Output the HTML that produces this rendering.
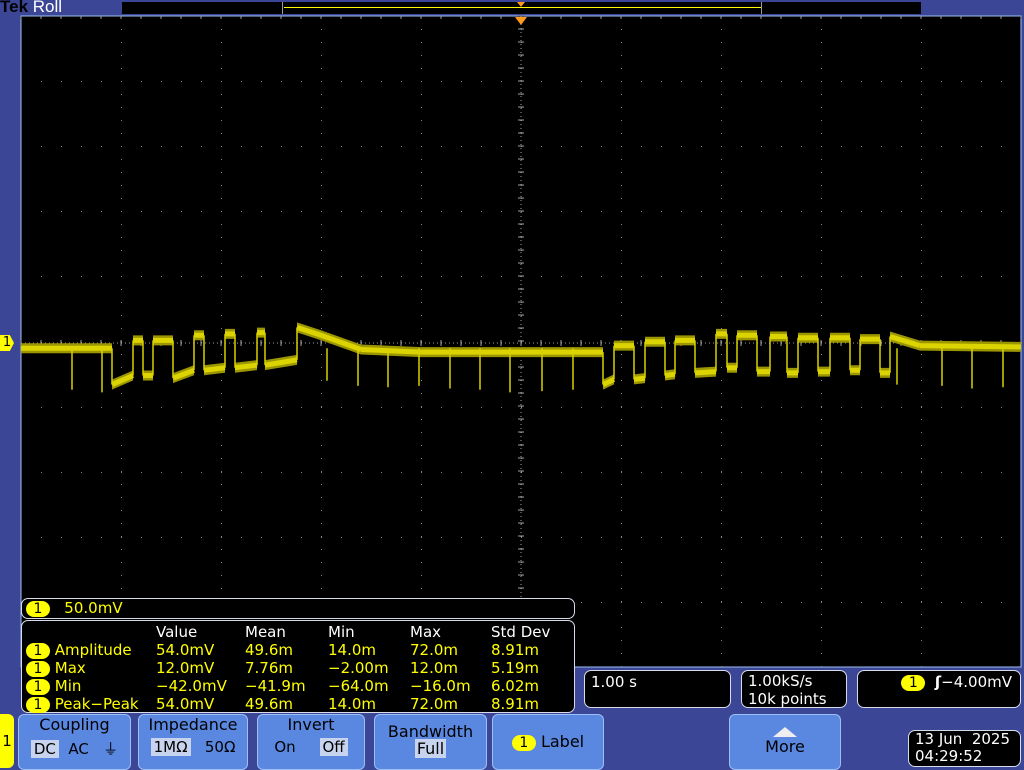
<!DOCTYPE html>
<html><head><meta charset="utf-8"><style>
body{margin:0;width:1024px;height:768px;background:#3b4796;overflow:hidden;position:relative;font-family:"DejaVu Sans","Liberation Sans",sans-serif;}
.abs{position:absolute}
.box{position:absolute;background:#000;border:1px solid #d8dce8;border-radius:7px;box-sizing:border-box;color:#fff;font-size:15px}
.btn{position:absolute;top:714px;height:56px;background:#5a88e0;border:1px solid #9cc0f5;border-radius:6px;box-sizing:border-box;color:#000;font-size:16px;text-align:center}
.c1{display:inline-block;background:#ffff00;color:#000;border-radius:9px;width:24px;height:16px;line-height:16px;text-align:center;font-size:14px}
table{border-collapse:collapse}
td{padding:0;color:#ffff00;font-size:15px;height:18px;line-height:18px}
</style></head><body>
<div class="abs" style="left:0;top:-3px;font-size:17px;font-family:'Liberation Sans',sans-serif;"><span style="color:#000;font-weight:bold">Tek</span> <span style="color:#fff">Roll</span></div>
<div class="abs" style="left:122px;top:2px;width:799px;height:12px;background:#000"></div>
<div class="abs" style="left:282px;top:2px;width:480px;height:12px;border-left:1px solid #999;border-right:1px solid #999;box-sizing:border-box"></div>
<div class="abs" style="left:284px;top:7px;width:477px;height:1px;background:#ffff00"></div>
<div class="abs" style="left:517px;top:2px;width:0;height:0;border-left:4px solid transparent;border-right:4px solid transparent;border-top:5px solid #ff9a1f"></div>
<svg class="abs" style="left:0;top:0" width="1024" height="768" id="plot"></svg>
<div class="abs" style="left:0;top:335px;width:14px;height:16px;background:#ffff00;color:#000;font-size:13px;line-height:16px;text-align:center;clip-path:polygon(0 0,70% 0,100% 50%,70% 100%,0 100%)">1</div>

<div class="box" style="left:21px;top:598px;width:554px;height:21px;color:#ffff00;padding-left:4px;line-height:19px"><span class="c1">1</span>&nbsp;&nbsp;&nbsp;50.0mV</div>
<div class="box" style="left:21px;top:620px;width:554px;height:93px;padding:2px 0 0 4px">
<table>
<tr><td style="width:130px"></td><td style="width:89px;color:#fff">Value</td><td style="width:83px;color:#fff">Mean</td><td style="width:82px;color:#fff">Min</td><td style="width:81px;color:#fff">Max</td><td style="color:#fff">Std Dev</td></tr>
<tr><td><span class="c1">1</span> Amplitude</td><td>54.0mV</td><td>49.6m</td><td>14.0m</td><td>72.0m</td><td>8.91m</td></tr>
<tr><td><span class="c1">1</span> Max</td><td>12.0mV</td><td>7.76m</td><td>−2.00m</td><td>12.0m</td><td>5.19m</td></tr>
<tr><td><span class="c1">1</span> Min</td><td>−42.0mV</td><td>−41.9m</td><td>−64.0m</td><td>−16.0m</td><td>6.02m</td></tr>
<tr><td><span class="c1">1</span> Peak−Peak</td><td>54.0mV</td><td>49.6m</td><td>14.0m</td><td>72.0m</td><td>8.91m</td></tr>
</table></div>
<div class="box" style="left:584px;top:670px;width:147px;height:38px;padding:2px 6px">1.00 s</div>
<div class="box" style="left:741px;top:670px;width:106px;height:38px;padding:1px 6px;line-height:18px">1.00kS/s<br>10k points</div>
<div class="box" style="left:857px;top:670px;width:164px;height:38px;padding:2px 8px;text-align:right"><span class="c1">1</span>&nbsp;&nbsp;<b>ʃ</b>−4.00mV</div>

<div class="abs" style="left:0;top:714px;width:14px;height:54px;background:#ffff00;border-radius:0 6px 6px 0;color:#000;font-size:15px;line-height:54px;text-align:center">1</div>
<div class="btn" style="left:18px;width:113px">Coupling<div style="margin-top:4px;font-size:15px"><span style="background:#c8d4ee;padding:0 3px">DC</span>&nbsp;&nbsp;AC&nbsp;&nbsp;&nbsp;⏚</div></div>
<div class="btn" style="left:138px;width:110px">Impedance<div style="margin-top:4px;font-size:15px"><span style="background:#c8d4ee;padding:0 3px">1MΩ</span>&nbsp;&nbsp;&nbsp;50Ω</div></div>
<div class="btn" style="left:257px;width:108px">Invert<div style="margin-top:4px;font-size:15px">On&nbsp;&nbsp;&nbsp;&nbsp;&nbsp;<span style="background:#c8d4ee;padding:0 3px">Off</span></div></div>
<div class="btn" style="left:374px;width:113px;padding-top:8px;line-height:17px">Bandwidth<br><span style="background:#c8d4ee;padding:0 2px">Full</span></div>
<div class="btn" style="left:492px;width:112px;line-height:54px"><span class="c1">1</span> Label</div>
<div class="btn" style="left:729px;width:112px;padding-top:12px"><div style="margin:0 auto;width:0;height:0;border-left:12px solid transparent;border-right:12px solid transparent;border-bottom:10px solid #eee"></div>More</div>
<div class="box" style="left:908px;top:730px;width:113px;height:37px;padding:0 6px;line-height:17px">13 Jun&nbsp;&nbsp;2025<br>04:29:52</div>

<script>
const traceTimes=[0,0.91,0.91,1.12,1.12,1.22,1.22,1.32,1.32,1.52,1.52,1.73,1.73,1.83,1.83,2.04,2.04,2.14,2.14,2.36,2.36,2.44,2.44,2.76,2.76,3.0,3.4,4.0,5.82,5.82,5.93,5.93,6.13,6.13,6.24,6.24,6.44,6.44,6.54,6.54,6.74,6.74,6.95,6.95,7.06,7.06,7.16,7.16,7.36,7.36,7.49,7.49,7.66,7.66,7.77,7.77,7.97,7.97,8.09,8.09,8.29,8.29,8.39,8.39,8.59,8.59,8.69,8.69,8.99,10];
const traceValues=[-4,-4,-32,-25,2,2,-25,-25,2,2,-27,-21,6,6,-21,-19,7,7,-19,-17,8,8,-17,-13,12,6,-5,-7,-7,-32,-28,-2,-2,-28,-27,1,1,-25,-24,2,2,-23,-22,7,7,-19,-19,6,6,-22,-22,5,5,-23,-23,4,4,-22,-22,4,4,-21,-21,3,3,-23,-23,5,-2,-3];
const spikeTimes=[0.51,0.81,3.06,3.37,3.67,3.98,4.29,4.59,4.89,5.21,5.52,8.76,9.21,9.51,9.82];
const spikeValues=[-36,-38,-29,-33,-34,-33,-35,-36,-38,-37,-36,-32,-33,-35,-34];
const X0=21,Y0=16,W=1000,H=651;
const xs=t=>X0+t*W/10;
const ys=mv=>343-mv*65/50;
const NS='http://www.w3.org/2000/svg';
const svg=document.getElementById('plot');
function mk(tag,attrs){const e=document.createElementNS(NS,tag);for(const k in attrs)e.setAttribute(k,attrs[k]);svg.appendChild(e);return e;}
const bg=mk('rect',{x:X0,y:Y0,width:W,height:H,fill:'#000',stroke:'#9cc0f5','stroke-width':1});


let g='';
for(let i=1;i<10;i++){const x=X0+i*100;for(let y=Y0+13;y<Y0+H;y+=13)g+=`M${x} ${y}h1v1h-1z`;}
for(let j=1;j<10;j++){const y=Math.round(Y0+j*65.1);for(let x=X0+20;x<X0+W;x+=20)g+=`M${x} ${y}h1v1h-1z`;}
const grid=mk('path',{d:g,fill:'#8a8a8a'});


let tk='';
for(let x=X0;x<=X0+W;x+=20){tk+=`M${x} ${Y0}v3M${x} 340v6`;}
for(let x=X0;x<=X0+W;x+=4){tk+=`M${x} 343h1`;}
for(let y=Y0;y<=Y0+H;y+=4){tk+=`M521 ${y}v1`;}
for(let y=Y0;y<=Y0+H;y+=13){tk+=`M518 ${y}h6`;}
const ticks=mk('path',{d:tk,stroke:'#a0a0a0','stroke-width':1,fill:'none'});


const tri=mk('path',{d:'M515 17h12l-6 8z',fill:'#ff9a1f'});


let bandD='',vertD='',lineD='';
for(let i=0;i<traceTimes.length-1;i++){
  const x1=xs(traceTimes[i]),x2=xs(traceTimes[i+1]),y1=ys(traceValues[i]),y2=ys(traceValues[i+1]);
  if(x2-x1<0.5){vertD+=`M${x1.toFixed(1)} ${y1.toFixed(1)}V${y2.toFixed(1)}`;}
  else{bandD+=`M${x1.toFixed(1)} ${(y1-5).toFixed(1)}L${x2.toFixed(1)} ${(y2-5).toFixed(1)}L${x2.toFixed(1)} ${(y2+5).toFixed(1)}L${x1.toFixed(1)} ${(y1+5).toFixed(1)}Z`;
    lineD+=`M${x1.toFixed(1)} ${y1.toFixed(1)}L${x2.toFixed(1)} ${y2.toFixed(1)}`;}
}
const band=mk('path',{d:bandD,fill:'#9c9600'});


const line=mk('path',{d:lineD,stroke:'#dcd400','stroke-width':5,fill:'none'});


const vert=mk('path',{d:vertD,stroke:'#d8d000','stroke-width':1.5,fill:'none'});


let sd='';
spikeTimes.forEach((t,i)=>{const x=xs(t);sd+=`M${x.toFixed(1)} ${ys(-4).toFixed(1)}V${ys(spikeValues[i]).toFixed(1)}`;});
const sp=mk('path',{d:sd,stroke:'#d8d000','stroke-width':1.5,fill:'none'});


</script>
</body></html>
